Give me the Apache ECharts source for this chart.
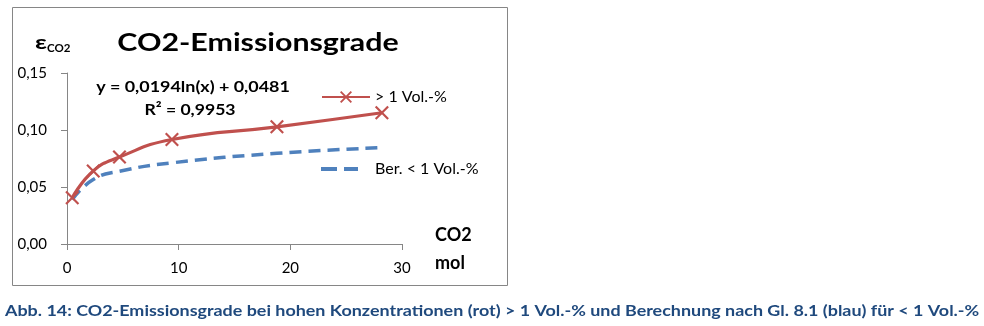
<!DOCTYPE html>
<html><head><meta charset="utf-8">
<script src="https://cdn.jsdelivr.net/npm/echarts@6/dist/echarts.min.js"></script>
<style>html,body{margin:0;padding:0;background:#fff}#c{width:984px;height:326px}</style>
</head><body><div id="c"></div>
<script>
const xMol = [0.47, 2.35, 4.7, 9.4, 18.8, 28.2];
const redEps = [0.0405, 0.064, 0.0763, 0.0917, 0.1028, 0.1151];
const blueEps = [0.039, 0.0565, 0.0638, 0.0712, 0.0795, 0.0845];
const xTicks = [0, 10, 20, 30];
const yTicks = ['0,00', '0,05', '0,10', '0,15'];
const redName = '> 1 Vol.-%';
const blueName = 'Ber. < 1 Vol.-%';
const titleText = 'CO2-Emissionsgrade';
const eqText = 'y = 0,0194ln(x) + 0,0481';
const r2Text = 'R² = 0,9953';
const caption = 'Abb. 14: CO2-Emissionsgrade bei hohen Konzentrationen (rot) > 1 Vol.-% und Berechnung nach Gl. 8.1 (blau) für < 1 Vol.-%';

const FF = 'Lato, "Open Sans", sans-serif';
const RED = '#C0504D', BLUE = '#4F81BD', AX = '#868686';
const XSYM = 'path://M0,1.1L1.1,0L5,3.9L8.9,0L10,1.1L6.1,5L10,8.9L8.9,10L5,6.1L1.1,10L0,8.9L3.9,5Z';
const DASHICON = 'path://M0,0H16V4H0ZM23,0H37V4H23Z';

function txt(text, x, y, size, weight, align, fill, sx) {
  return { type: 'text', x: x, y: y, scaleX: sx || 1, silent: true, style: {
    text: text, fontSize: size, fontWeight: weight, fontFamily: FF, fill: fill || '#000',
    align: align, textAlign: align, verticalAlign: 'middle', textVerticalAlign: 'middle' } };
}

const chart = echarts.init(document.getElementById('c'));
chart.setOption({
  animation: false,
  backgroundColor: '#fff',
  grid: { left: 67, right: 582, top: 73, bottom: 82, containLabel: false },
  xAxis: {
    type: 'value', min: xTicks[0], max: xTicks[xTicks.length - 1], interval: 10,
    axisLine: { lineStyle: { color: AX, width: 1 } },
    axisTick: { show: true, length: 6, lineStyle: { color: AX } },
    splitLine: { show: false },
    axisLabel: { color: '#000', fontSize: 15, fontFamily: FF, margin: 17 }
  },
  yAxis: {
    type: 'value', min: 0, max: 0.15, interval: 0.05,
    axisLine: { show: true, lineStyle: { color: AX, width: 1 } },
    axisTick: { show: true, length: 6, lineStyle: { color: AX } },
    splitLine: { show: false },
    axisLabel: { color: '#000', fontSize: 15, fontFamily: FF, margin: 20,
      formatter: function (v) { return yTicks[Math.round(v / 0.05)]; } }
  },
  legend: [
    { data: [redName], left: 321, top: 89, itemWidth: 48, itemHeight: 15, padding: 0,
      textStyle: { fontSize: 16, fontFamily: FF, color: '#000' } },
    { data: [{ name: blueName, icon: DASHICON }], left: 321, top: 161, itemWidth: 37, itemHeight: 4, padding: 0,
      textStyle: { fontSize: 16, fontFamily: FF, color: '#000', padding: [0, 0, 0, 12], lineHeight: 16 } }
  ],
  series: [
    { name: blueName, type: 'line', smooth: 0.5, symbol: 'none',
      data: xMol.map((x, i) => [x, blueEps[i]]),
      lineStyle: { color: BLUE, width: 3.5, type: [12, 7] }, itemStyle: { color: BLUE } },
    { name: redName, type: 'line', smooth: 0.5, symbol: XSYM, symbolSize: 14,
      data: xMol.map((x, i) => [x, redEps[i]]),
      lineStyle: { color: RED, width: 3.2 }, itemStyle: { color: RED } }
  ],
  graphic: [
    { type: 'rect', shape: { x: 12.5, y: 7.5, width: 495, height: 278 }, silent: true,
      style: { fill: 'none', stroke: AX, lineWidth: 1 } },
    txt(titleText, 258, 43, 25.5, 'bold', 'center', '#000', 1.19),
    txt('ε', 35, 43, 18, 'bold', 'left', '#000', 1.45),
    txt('CO2', 47, 48, 11.5, 'bold', 'left', '#000', 1.0),
    txt(eqText, 193, 87, 16, 'bold', 'center', '#000', 1.12),
    txt(r2Text, 190, 110, 16, 'bold', 'center', '#000', 1.1),
    txt('CO2', 435, 235, 18, 'bold', 'left'),
    txt('mol', 435, 263, 18, 'bold', 'left'),
    txt(caption, 5, 311, 16, 'bold', 'left', '#1F497D', 1.12)
  ]
});
</script></body></html>
